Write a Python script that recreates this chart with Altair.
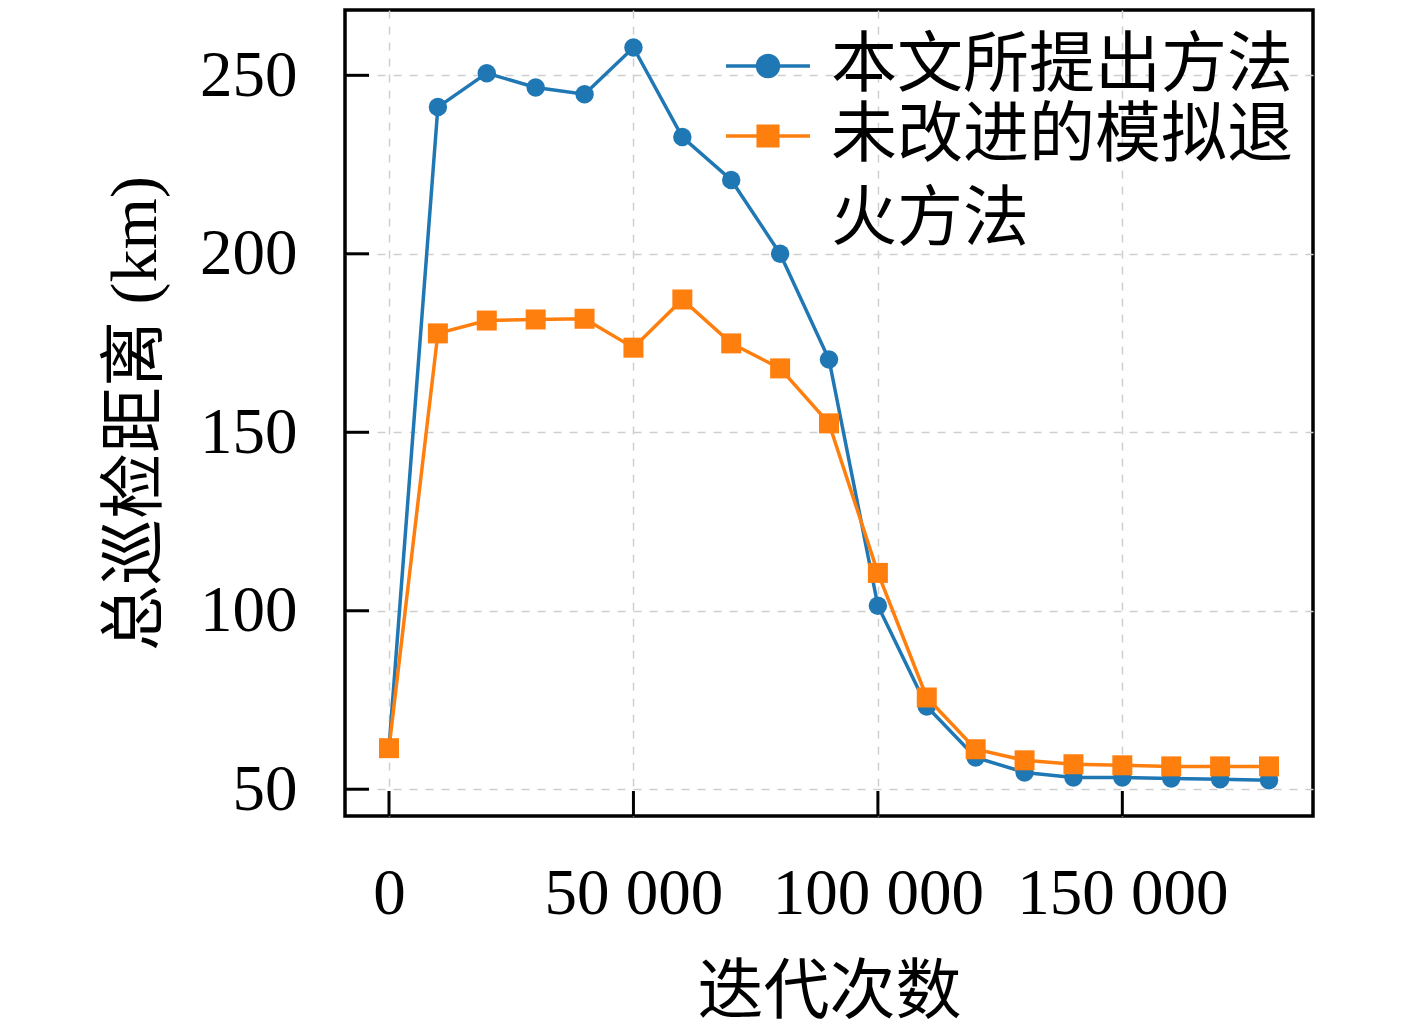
import altair as alt
import pandas as pd

iterations = [0, 10000, 20000, 30000, 40000, 50000, 60000, 70000, 80000, 90000,
              100000, 110000, 120000, 130000, 140000, 150000, 160000, 170000, 180000]
proposed = [61.5, 241.1, 250.6, 246.6, 244.7, 257.8, 232.7, 220.7, 200.0, 170.4,
            101.4, 73.2, 58.9, 54.7, 53.3, 53.3, 53.0, 52.8, 52.5]
baseline_sa = [61.5, 177.7, 181.3, 181.6, 181.8, 173.7, 187.2, 174.9, 167.9, 152.5,
               110.6, 75.7, 61.2, 58.1, 57.0, 56.7, 56.4, 56.4, 56.4]
x_ticks = [0, 50000, 100000, 150000]
y_ticks = [50, 100, 150, 200, 250]
series_names = ["本文所提出方法", "未改进的模拟退火方法"]
series_colors = ["#1f77b4", "#ff7f0e"]
series_shapes = ["circle", "square"]

n = len(iterations)
df = pd.DataFrame({
    "iter": iterations * 2,
    "dist": proposed + baseline_sa,
    "method": [series_names[0]] * n + [series_names[1]] * n,
})
xt_df = pd.DataFrame({"iter": x_ticks})
yt_df = pd.DataFrame({"dist": y_ticks})

FONT = "Liberation Serif, Noto Sans CJK SC"
W, H = 968, 806

xscale = alt.Scale(domain=[-9000, 189000], nice=False, zero=False)
yscale = alt.Scale(domain=[42.5, 268.3], nice=False, zero=False)

xaxis = alt.Axis(values=x_ticks, title="迭代次数",
                 labelExpr="replace(format(datum.value, ','), ',', ' ')",
                 grid=True, gridDash=[8, 8], gridColor="#cfcfcf", gridWidth=1.5,
                 ticks=False, domain=False, labelFont=FONT, labelFontSize=65,
                 labelColor="black", labelPadding=46, labelLimit=500,
                 titleFont=FONT, titleFontSize=66, titleFontWeight="normal",
                 titleColor="black", titlePadding=34, labelFlush=False,
                 labelOverlap=False)
yaxis = alt.Axis(values=y_ticks, title="总巡检距离 (km)",
                 grid=True, gridDash=[8, 8], gridColor="#cfcfcf", gridWidth=1.5,
                 ticks=False, domain=False, labelFont=FONT, labelFontSize=65,
                 labelColor="black", labelPadding=48, labelLimit=500,
                 titleFont=FONT, titleFontSize=66, titleFontWeight="normal",
                 titleColor="black", titlePadding=30, labelFlush=False,
                 labelOverlap=False)

sym_paths = [
    "M-3,0L3,0M0.75,0A0.75,0.75,0,1,1,-0.75,0A0.75,0.75,0,1,1,0.75,0Z",
    "M-3,0L3,0M-0.7,-0.7L0.7,-0.7L0.7,0.7L-0.7,0.7Z",
]
legend_y = [23, 93]


def make_legend(i):
    return alt.Legend(
        title=None, orient="none", legendX=390, legendY=legend_y[i], padding=0,
        values=[series_names[i]], symbolType=sym_paths[i], symbolSize=784,
        symbolStrokeWidth=3.5, symbolStrokeColor=series_colors[i],
        symbolFillColor=series_colors[i], symbolOpacity=1,
        labelFont=FONT, labelFontSize=66, labelColor="black", labelLimit=2000,
        labelOffset=30, labelBaseline="middle",
        labelExpr=f"datum.label === '{series_names[1]}' ? ['未改进的模拟退', '火方法'] : datum.label",
    )


base = alt.Chart(df)
layers = []
for i, name in enumerate(series_names):
    sub = base.transform_filter(alt.datum.method == name)
    layers.append(sub.mark_line(strokeWidth=3.5, color=series_colors[i]).encode(
        x=alt.X("iter:Q", scale=xscale, axis=xaxis),
        y=alt.Y("dist:Q", scale=yscale, axis=yaxis),
    ))
    sc = alt.Scale(domain=[name], range=[series_colors[i]])
    if i == 0:
        enc = {"color": alt.Color("method:N", scale=sc, legend=make_legend(i))}
    else:
        enc = {"fill": alt.Fill("method:N", scale=sc, legend=make_legend(i))}
    layers.append(sub.mark_point(filled=True, opacity=1, shape=series_shapes[i],
                                 size=340 if i == 0 else 400).encode(
        x=alt.X("iter:Q", scale=xscale, axis=xaxis),
        y=alt.Y("dist:Q", scale=yscale, axis=yaxis),
        **enc,
    ))

xticks_layer = alt.Chart(xt_df).mark_rule(color="black", strokeWidth=3).encode(
    x=alt.X("iter:Q", scale=xscale, axis=xaxis),
    y=alt.value(H), y2=alt.value(H - 25),
)
yticks_layer = alt.Chart(yt_df).mark_rule(color="black", strokeWidth=3).encode(
    y=alt.Y("dist:Q", scale=yscale, axis=yaxis),
    x=alt.value(0), x2=alt.value(24),
)

chart = alt.layer(xticks_layer, yticks_layer, *layers).properties(
    width=W, height=H,
    autosize=alt.AutoSizeParams(type="none"),
    padding={"left": 337, "top": 2, "right": 60, "bottom": 210},
    background="white",
).configure(
    view=alt.ViewConfig(stroke="black", strokeWidth=3.5),
    style={"guide-label": {"lineHeight": 84}},
)

chart.save("out.html", embed_options={"renderer": "svg", "actions": False})
